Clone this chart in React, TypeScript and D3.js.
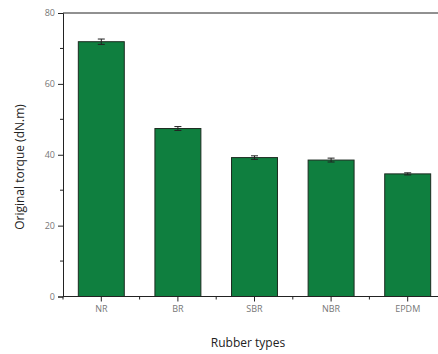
import React, { useEffect, useRef } from "react"
import * as d3 from "d3"

const categories = [ "NR", "BR", "SBR", "NBR", "EPDM" ]
const torque = [ 71.9, 47.4, 39.2, 38.5, 34.6 ]
const errors = [ 0.75, 0.55, 0.5, 0.55, 0.3 ]
const yMajor = [ 0, 20, 40, 60, 80 ]
const yMinor = [ 10, 30, 50, 70 ]

export default function App() {
  const ref = useRef<SVGSVGElement>( null )

  useEffect( () => {
    const w = 438
    const h = 354
    const left = 63
    const top = 13
    const bottom = 296.5
    const bandW = 76.6

    const svg = d3.select( ref.current )
    svg.selectAll( "*" ).remove()

    const x = d3
      .scaleBand()
      .domain( categories )
      .range( [ left, left + bandW * categories.length ] )
      .paddingInner( 0.4 )
      .paddingOuter( 0.2 )

    const y = d3.scaleLinear().domain( [ 0, 80 ] ).range( [ bottom, top ] )

    const font = "'Open Sans', sans-serif"

    // bars
    svg
      .selectAll( "rect.bar" )
      .data( categories )
      .enter()
      .append( "rect" )
      .attr( "class", "bar" )
      .attr( "x", d => x( d )! )
      .attr( "y", ( d, i ) => y( torque[ i ] ) )
      .attr( "width", x.bandwidth() )
      .attr( "height", ( d, i ) => bottom - y( torque[ i ] ) )
      .attr( "fill", "#0f7f3f" )
      .attr( "stroke", "#1c2b20" )
      .attr( "stroke-width", 1 )

    // error bars
    const eb = svg
      .selectAll( "g.err" )
      .data( categories )
      .enter()
      .append( "g" )
      .attr( "class", "err" )
      .attr( "stroke", "#222" )
      .attr( "stroke-width", 1 )
    const cx = ( d: string ) => x( d )! + x.bandwidth() / 2
    eb.append( "line" )
      .attr( "x1", cx ).attr( "x2", cx )
      .attr( "y1", ( d, i ) => y( torque[ i ] + errors[ i ] ) )
      .attr( "y2", ( d, i ) => y( torque[ i ] - errors[ i ] ) )
    eb.append( "line" )
      .attr( "x1", d => cx( d ) - 3.5 ).attr( "x2", d => cx( d ) + 3.5 )
      .attr( "y1", ( d, i ) => y( torque[ i ] + errors[ i ] ) )
      .attr( "y2", ( d, i ) => y( torque[ i ] + errors[ i ] ) )
    eb.append( "line" )
      .attr( "x1", d => cx( d ) - 3.5 ).attr( "x2", d => cx( d ) + 3.5 )
      .attr( "y1", ( d, i ) => y( torque[ i ] - errors[ i ] ) )
      .attr( "y2", ( d, i ) => y( torque[ i ] - errors[ i ] ) )

    // frame lines
    svg.append( "line" )
      .attr( "x1", left ).attr( "x2", w ).attr( "y1", top ).attr( "y2", top )
      .attr( "stroke", "#222" ).attr( "stroke-width", 1 )

    // y axis
    const yAxis = svg.append( "g" ).attr( "transform", `translate(${ left },0)` )
    yAxis.call(
      d3.axisLeft( y ).tickValues( yMajor ).tickSize( 5 ).tickPadding( 3 ).tickFormat( d3.format( "d" ) )
    )
    yAxis.selectAll( ".tick" ).data( yMinor ).enter()
    yAxis.selectAll( "line.minor" )
      .data( yMinor )
      .enter()
      .append( "line" )
      .attr( "class", "minor" )
      .attr( "x1", -3 ).attr( "x2", 0 )
      .attr( "y1", d => y( d ) ).attr( "y2", d => y( d ) )
      .attr( "stroke", "#222" )

    // x axis
    const xAxis = svg.append( "g" ).attr( "transform", `translate(0,${ bottom })` )
    xAxis.call( d3.axisBottom( x ).tickSize( 5 ).tickPadding( 4 ).tickSizeOuter( 0 ) )
    const xMinor = categories.slice( 0, -1 ).map( ( d, i ) => ( cx( d ) + cx( categories[ i + 1 ] ) ) / 2 )
    xAxis.selectAll( "line.minor" )
      .data( [ left, ...xMinor ] )
      .enter()
      .append( "line" )
      .attr( "class", "minor" )
      .attr( "x1", d => d ).attr( "x2", d => d )
      .attr( "y1", 0 ).attr( "y2", 3 )
      .attr( "stroke", "#222" )
    xAxis.select( ".domain" ).attr( "d", `M${ left },0H${ w }` )

    svg.selectAll( ".domain" ).attr( "stroke", "#222" )
    svg.selectAll( ".tick line" ).attr( "stroke", "#222" )
    svg.selectAll( ".tick text" )
      .attr( "fill", "#777" )
      .style( "font-family", font )
      .style( "font-size", "9px" )

    // titles
    svg.append( "text" )
      .attr( "x", 248 ).attr( "y", 347 )
      .attr( "text-anchor", "middle" )
      .style( "font-family", font ).style( "font-size", "12px" )
      .attr( "fill", "#222" )
      .text( "Rubber types" )
    svg.append( "text" )
      .attr( "transform", "translate(24,167) rotate(-90)" )
      .attr( "text-anchor", "middle" )
      .style( "font-family", font ).style( "font-size", "12px" )
      .attr( "fill", "#222" )
      .text( "Original torque (dN.m)" )

    svg.attr( "width", w ).attr( "height", h )
  }, [] )

  return (
    <div style={ { position: "fixed", left: 0, top: 0, background: "#fff" } }>
      <svg ref={ ref } width={ 438 } height={ 354 } style={ { display: "block" } } />
    </div>
  )
}
